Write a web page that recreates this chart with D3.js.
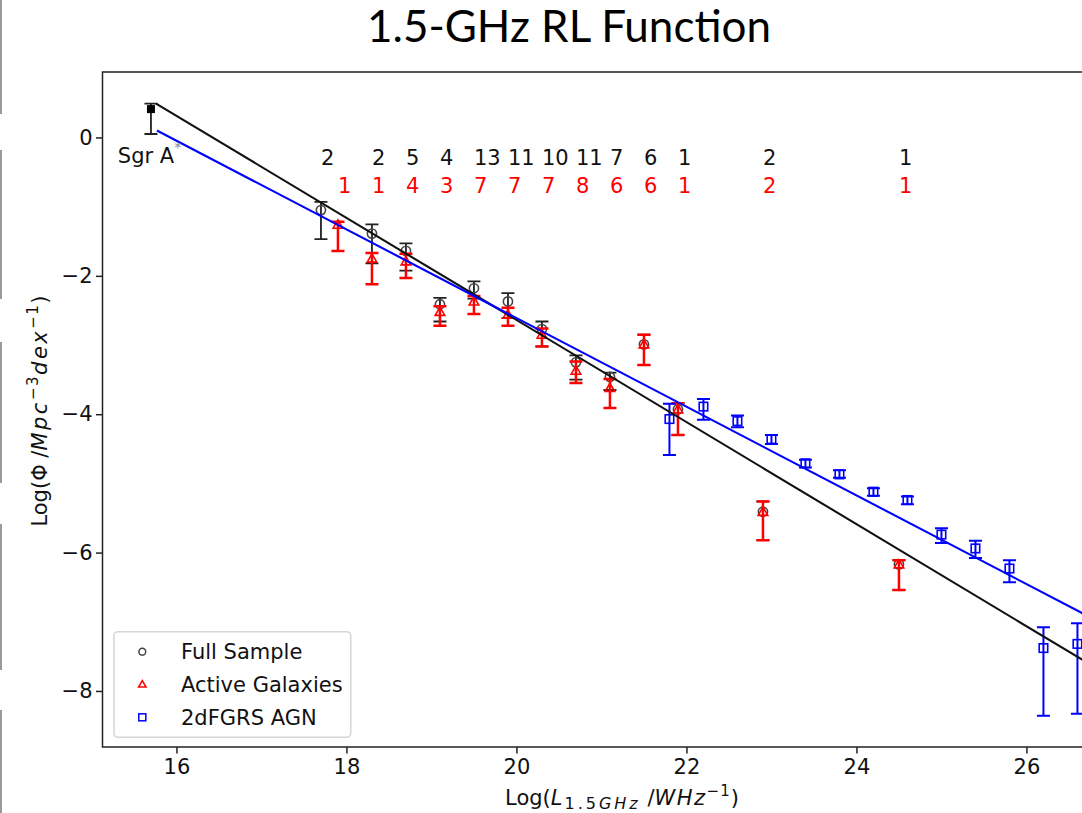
<!DOCTYPE html>
<html>
<head>
<meta charset="utf-8">
<script src="https://cdn.jsdelivr.net/npm/d3@7"></script>
<style>
  html, body { margin: 0; padding: 0; background: #fff; overflow: hidden; }
  svg { display: block; font-family: "DejaVu Sans", sans-serif; }
</style>
</head>
<body>
<svg id="chart" width="1082" height="813"></svg>
<script>
'use strict';

// full sample (black circles) with error bar ends
const fullX  = [17.7, 18.3, 18.7, 19.1, 19.5, 19.9, 20.3, 20.7, 21.1, 21.5, 21.9, 22.9, 24.5];
const fullY  = [-1.05, -1.39, -1.64, -2.41, -2.18, -2.37, -2.77, -3.25, -3.46, -2.99, -3.93, -5.41, -6.17];
const fullHi = [-0.93, -1.255, -1.53, -2.32, -2.08, -2.25, -2.66, -3.15, -3.40, -2.85, -3.84, -5.26, -6.11];
const fullLo = [-1.47, -1.82, -1.925, -2.66, -2.33, -2.61, -3.02, -3.50, -3.65, -3.29, -4.30, -5.82, -6.54];

// active galaxies (red triangles)
const activeX  = [17.9, 18.3, 18.7, 19.1, 19.5, 19.9, 20.3, 20.7, 21.1, 21.5, 21.9, 22.9, 24.5];
const activeY  = [-1.26, -1.75, -1.79, -2.52, -2.37, -2.56, -2.85, -3.37, -3.62, -2.99, -3.93, -5.41, -6.17];
const activeHi = [-1.22, -1.67, -1.68, -2.44, -2.29, -2.46, -2.76, -3.24, -3.49, -2.85, -3.84, -5.26, -6.11];
const activeLo = [-1.64, -2.12, -2.03, -2.72, -2.55, -2.72, -3.02, -3.55, -3.91, -3.29, -4.30, -5.82, -6.54];

// 2dFGRS AGN (blue squares)
const agnX  = [21.8, 22.2, 22.6, 23.0, 23.4, 23.8, 24.2, 24.6, 25.0, 25.4, 25.8, 26.2, 26.6];
const agnY  = [-4.07, -3.89, -4.10, -4.36, -4.71, -4.87, -5.12, -5.24, -5.74, -5.94, -6.23, -7.38, -7.32];
const agnHi = [-3.85, -3.78, -4.02, -4.30, -4.66, -4.81, -5.07, -5.19, -5.65, -5.83, -6.11, -7.08, -7.02];
const agnLo = [-4.59, -4.08, -4.19, -4.43, -4.77, -4.92, -5.18, -5.30, -5.86, -6.08, -6.43, -8.36, -8.33];

// Sgr A*
const sgrX = [15.7], sgrY = [0.41], sgrHi = [0.49], sgrLo = [0.05];
const sgrLabel = { x: 15.31, y: -0.37, text: 'Sgr A' };

// fit lines
const fullFitX = [15.76, 27.35], fullFitY = [0.49, -8.06];
const agnFitX  = [15.77, 27.35], agnFitY  = [0.10, -7.32];

// counts per bin
const countFullX = [17.7, 18.3, 18.7, 19.1, 19.5, 19.9, 20.3, 20.7, 21.1, 21.5, 21.9, 22.9, 24.5];
const countFull  = ['2', '2', '5', '4', '13', '11', '10', '11', '7', '6', '1', '2', '1'];
const countActiveX = [17.9, 18.3, 18.7, 19.1, 19.5, 19.9, 20.3, 20.7, 21.1, 21.5, 21.9, 22.9, 24.5];
const countActive  = ['1', '1', '4', '3', '7', '7', '7', '8', '6', '6', '1', '2', '1'];
const countFullY = -0.4, countActiveY = -0.8;

const xTicks = [16, 18, 20, 22, 24, 26];
const yTicks = [0, -2, -4, -6, -8];
const legendLabels = ['Full Sample', 'Active Galaxies', '2dFGRS AGN'];

const COLORS = { full: '#444', fullBar: '#222', active: '#ff0000', agn: '#0000ff', line: '#111' };
const FONT = 21;
const CAP = 6.5;

const svg = d3.select('#chart');
const margin = { left: 102.5, top: 72, bottom: 747 };

const x = d3.scaleLinear().domain([15.13, 27.35]).range([margin.left, margin.left + 12.22 * 85]);
const y = d3.scaleLinear().domain([-8.81, 0.946]).range([margin.bottom, margin.top]);

// slide border remnants on the far left
[[0, 114], [150, 299], [342, 483], [524, 670], [710, 813]].forEach(([a, b]) => {
    svg.append('line').attr('x1', 1).attr('x2', 1).attr('y1', a).attr('y2', b)
        .attr('stroke', '#9a9a9a').attr('stroke-width', 2);
});

// title
const title = svg.append('text')
    .attr('x', 569).attr('y', 42)
    .attr('text-anchor', 'middle')
    .style('font-family', 'Lato, "Open Sans", sans-serif')
    .style('font-size', '40px')
    .attr('fill', '#000')
    .text('1.5-GHz RL Function');
let tw = title.node().getComputedTextLength();
title.style('font-size', (40 * 404 / tw) + 'px');

// axes
const xAxis = d3.axisBottom(x).tickValues(xTicks).tickSize(CAP).tickPadding(5.5).tickFormat(d3.format('d'));
const yAxis = d3.axisLeft(y).tickValues(yTicks).tickSize(CAP).tickPadding(3.5).tickFormat(d3.format('d'));

const gx = svg.append('g').attr('transform', `translate(0,${margin.bottom})`).call(xAxis);
const gy = svg.append('g').attr('transform', `translate(${margin.left},0)`).call(yAxis);
[gx, gy].forEach(g => {
    g.select('.domain').remove();
    g.selectAll('.tick line').attr('stroke', '#222').attr('stroke-width', 1.5);
    g.selectAll('.tick text').attr('fill', '#111').style('font-size', FONT + 'px')
        .style('font-family', '"DejaVu Sans", sans-serif');
});

// spines (right one is beyond the picture)
const frame = svg.append('g').attr('stroke', '#222').attr('stroke-width', 1.5).attr('fill', 'none');
frame.append('path').attr('d', `M${x.range()[1]},${margin.top}H${margin.left}V${margin.bottom}H${x.range()[1]}`);

// error bars
function errorBars(xs, lo, hi, color, width) {
    const g = svg.append('g').attr('stroke', color).attr('stroke-width', width).attr('fill', 'none');
    xs.forEach((v, i) => {
        const px = x(v), y1 = y(hi[i]), y2 = y(lo[i]);
        g.append('path').attr('d', `M${px},${y1}V${y2}M${px - CAP},${y1}H${px + CAP}M${px - CAP},${y2}H${px + CAP}`);
    });
}

const trianglePath = d3.symbol().type(d3.symbolTriangle).size(40)();

function circles(g, xs, ys) {
    xs.forEach((v, i) => g.append('circle').attr('cx', x(v)).attr('cy', y(ys[i])).attr('r', 4.6)
        .attr('fill', 'none').attr('stroke', COLORS.full).attr('stroke-width', 1.6));
}
function triangles(g, xs, ys) {
    xs.forEach((v, i) => g.append('path').attr('d', trianglePath)
        .attr('transform', `translate(${x(v)},${y(ys[i]) + 0.8})`)
        .attr('fill', 'none').attr('stroke', COLORS.active).attr('stroke-width', 1.6));
}
function squares(g, xs, ys, s) {
    xs.forEach((v, i) => g.append('rect').attr('x', x(v) - s / 2).attr('y', y(ys[i]) - s / 2)
        .attr('width', s).attr('height', s)
        .attr('fill', 'none').attr('stroke', COLORS.agn).attr('stroke-width', 1.6));
}

// Sgr A*
errorBars(sgrX, sgrLo, sgrHi, COLORS.fullBar, 1.8);
svg.append('rect').attr('x', x(sgrX[0]) - 4).attr('y', y(sgrY[0]) - 4)
    .attr('width', 8).attr('height', 8).attr('fill', '#000');

// full sample
errorBars(fullX, fullLo, fullHi, COLORS.fullBar, 1.8);
circles(svg.append('g'), fullX, fullY);

// active galaxies
errorBars(activeX, activeLo, activeHi, COLORS.active, 2.5);
triangles(svg.append('g'), activeX, activeY);

// 2dFGRS AGN
errorBars(agnX, agnLo, agnHi, COLORS.agn, 2);
squares(svg.append('g'), agnX, agnY, 8.5);

// fit lines
const line = d3.line().x(d => x(d[0])).y(d => y(d[1]));
svg.append('path').attr('d', line(d3.zip(fullFitX, fullFitY)))
    .attr('stroke', COLORS.line).attr('stroke-width', 2.1).attr('fill', 'none');
svg.append('path').attr('d', line(d3.zip(agnFitX, agnFitY)))
    .attr('stroke', COLORS.agn).attr('stroke-width', 2.1).attr('fill', 'none');

// counts
const counts = svg.append('g').style('font-size', FONT + 'px');
countFullX.forEach((v, i) => counts.append('text').attr('x', x(v)).attr('y', y(countFullY))
    .attr('fill', '#111').text(countFull[i]));
countActiveX.forEach((v, i) => counts.append('text').attr('x', x(v)).attr('y', y(countActiveY))
    .attr('fill', COLORS.active).text(countActive[i]));

// Sgr A* label
const sl = svg.append('text').attr('x', x(sgrLabel.x)).attr('y', y(sgrLabel.y))
    .style('font-size', FONT + 'px').attr('fill', '#111');
sl.append('tspan').text(sgrLabel.text);
sl.append('tspan').attr('dy', -11).style('font-size', '14px').attr('fill', '#888').text('*');

// axis labels, math parts get a bit of extra spacing like mathtext
function mathPart(t, txt, opts) {
    const s = t.append('tspan').text(txt);
    if (opts.italic) s.style('font-style', 'italic');
    if (opts.size) s.style('font-size', opts.size + 'px');
    if (opts.ls) s.style('letter-spacing', opts.ls + 'px');
    if (opts.dy) s.attr('dy', opts.dy);
    return s;
}

const xl = svg.append('text').attr('x', 622).attr('y', 805).attr('text-anchor', 'middle')
    .style('font-size', FONT + 'px').attr('fill', '#111');
mathPart(xl, 'Log(', {});
mathPart(xl, 'L', { italic: true, ls: 2 });
mathPart(xl, '1.5', { size: 16, ls: 3, dy: 4 });
mathPart(xl, 'GHz', { size: 16, ls: 3, italic: true });
mathPart(xl, ' /', { dy: -4 });
mathPart(xl, 'WHz', { italic: true, ls: 1.5 });
mathPart(xl, '\u22121', { size: 15, ls: 1, dy: -9 });
mathPart(xl, ')', { dy: 9 });

const yl = svg.append('text').attr('transform', 'translate(47,411) rotate(-90)').attr('text-anchor', 'middle')
    .style('font-size', FONT + 'px').attr('fill', '#111');
mathPart(yl, 'Log(\u03a6 /', {});
mathPart(yl, 'Mpc', { italic: true, ls: 2.5 });
mathPart(yl, '\u22123', { size: 15, ls: 1.5, dy: -9 });
mathPart(yl, 'dex', { italic: true, ls: 2.5, dy: 9 });
mathPart(yl, '\u22121', { size: 15, ls: 1.5, dy: -9 });
mathPart(yl, ')', { dy: 9 });

// legend
const lg = svg.append('g');
lg.append('rect').attr('x', 114).attr('y', 631.7).attr('width', 236.7).attr('height', 105.6)
    .attr('rx', 4).attr('fill', '#fff').attr('fill-opacity', 0.8)
    .attr('stroke', '#d6d6d6').attr('stroke-width', 1.5);
const rowY = [651.7, 684.3, 717.3];
const mx = 142.3;
lg.append('circle').attr('cx', mx).attr('cy', rowY[0]).attr('r', 3.4)
    .attr('fill', 'none').attr('stroke', COLORS.full).attr('stroke-width', 1.5);
lg.append('path').attr('d', d3.symbol().type(d3.symbolTriangle).size(24)())
    .attr('transform', `translate(${mx},${rowY[1] + 0.6})`)
    .attr('fill', 'none').attr('stroke', COLORS.active).attr('stroke-width', 1.5);
lg.append('rect').attr('x', mx - 3.5).attr('y', rowY[2] - 3.5).attr('width', 7).attr('height', 7)
    .attr('fill', 'none').attr('stroke', COLORS.agn).attr('stroke-width', 1.5);
legendLabels.forEach((t, i) => lg.append('text').attr('x', 181).attr('y', rowY[i] + 7.5)
    .style('font-size', FONT + 'px').attr('fill', '#111').text(t));
</script>
</body>
</html>
